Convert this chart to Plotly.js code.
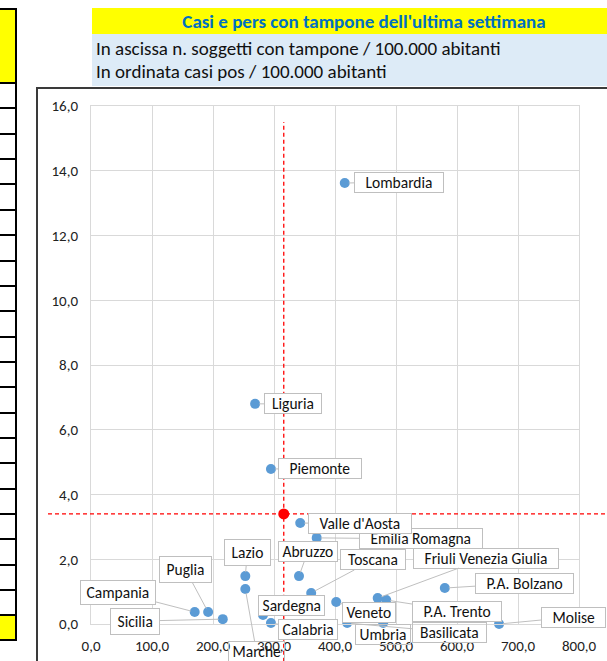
<!DOCTYPE html>
<html>
<head>
<meta charset="utf-8">
<script src="https://cdn.plot.ly/plotly-3.0.1.min.js"></script>
<style>
  html, body { margin: 0; padding: 0; background: #fff; }
  #wrap { position: relative; width: 607px; height: 661px; overflow: hidden; }
  .deco { position: absolute; box-sizing: border-box; }
  #chart { position: absolute; left: 0; top: 0; width: 607px; height: 661px; }
</style>
</head>
<body>
<div id="wrap">
  <div id="cells"></div>
  <div class="deco" style="left:92px;top:8px;width:515px;height:26px;background:#FFFF00;"></div>
  <div class="deco" style="left:92px;top:34px;width:515px;height:52px;background:#DDEBF7;"></div>
  <div class="deco" style="left:36px;top:87px;width:600px;height:600px;background:#fff;border-left:2px solid #3a3a3a;border-top:2px solid #3a3a3a;"></div>
  <div id="chart"></div>
</div>
<script>
// ---- data ----
const regions = ["Lombardia", "Liguria", "Piemonte", "Valle d'Aosta", "Emilia Romagna",
  "Abruzzo", "Lazio", "Marche", "Toscana", "Puglia", "Campania", "Sicilia",
  "Sardegna", "Calabria", "Veneto", "Friuli Venezia Giulia", "P.A. Trento",
  "P.A. Bolzano", "Molise", "Umbria", "Basilicata"];
const tamponi = [416, 269, 295, 343, 370, 341, 253, 253, 361, 192, 170, 216,
  282, 295, 402, 470, 484, 580, 669, 479, 420];
const casi = [13.62, 6.80, 4.79, 3.12, 2.66, 1.48, 1.48, 1.08, 0.96, 0.37, 0.37, 0.15,
  0.28, 0.03, 0.68, 0.80, 0.74, 1.11, 0.0, 0.03, 0.03];
const mediaTamponi = [316];
const mediaCasi = [3.40];
const xTicks = [0, 100, 200, 300, 400, 500, 600, 700, 800];
const yTicks = [0, 2, 4, 6, 8, 10, 12, 14, 16];
const titolo = "Casi e pers con tampone dell'ultima settimana";
const sottotitolo1 = "In ascissa n. soggetti con tampone / 100.000 abitanti";
const sottotitolo2 = "In ordinata casi pos / 100.000 abitanti";

// ---- label placement: [dx px, dy px, padding, side spaces, transparent box] ----
const labelPos = {
  "Lombardia": [54, -1, 0, 3, 0], "Liguria": [38, 0, 0, 2, 0], "Piemonte": [49, 0, 0, 3, 0],
  "Valle d'Aosta": [60, 1, 0, 3, 0], "Emilia Romagna": [104, 1, 0, 3, 0], "Abruzzo": [9, -25, 0, 1, 0],
  "Lazio": [2, -24, 3, 1, 0], "Marche": [11, 62, 0, 1, 1], "Toscana": [62, -33, 0, 2, 0],
  "Puglia": [-23, -43, 3, 1, 0], "Campania": [-77, -20, 2, 1, 0], "Sicilia": [-88, 2, 3, 1, 0],
  "Sardegna": [28, -9, 0, 1, 0], "Calabria": [37, 6, 0, 1, 0], "Veneto": [33, 11, 0, 1, 0],
  "Friuli Venezia Giulia": [108, -40, 0, 3, 0], "P.A. Trento": [71, 11, 0, 3, 0],
  "P.A. Bolzano": [80, -5, 0, 3, 0], "Molise": [74, -7, 0, 3, 0], "Umbria": [0, 11, 0, 1, 1],
  "Basilicata": [102, 9, 0, 2, 1]
};

// ---- spreadsheet cells at left ----
(function () {
  const c = document.getElementById('cells');
  let html = '<div class="deco" style="left:0;top:8px;width:17px;height:76px;background:#FFFF00;border:2px solid #000;border-left:none;"></div>';
  for (let k = 1; k <= 21; k++) {
    const y = 83 + 25.35 * k;
    html += '<div class="deco" style="left:0;top:' + (y - 1).toFixed(1) + 'px;width:17px;height:2px;background:#000;"></div>';
  }
  html += '<div class="deco" style="left:0;top:614px;width:17px;height:27px;background:#FFFF00;border:2px solid #000;border-left:none;"></div>';
  html += '<div class="deco" style="left:15px;top:8px;width:2px;height:633px;background:#000;"></div>';
  c.innerHTML = html;
})();

const W = 607, H = 661;
const M = {l: 91, r: 28, t: 106, b: 37};
const pw = W - M.l - M.r, ph = H - M.t - M.b;
const pxX = px => (px - M.l) / pw;
const pxY = py => (H - M.b - py) / ph;

const FONT = "Carlito, Calibri, Lato, sans-serif";
const nb = n => '\u00a0'.repeat(n);

let annotations = regions.map((r, i) => {
  const p = labelPos[r];
  return {
    x: tamponi[i], y: casi[i], xref: 'x', yref: 'y',
    text: nb(p[3]) + r + nb(p[3]), showarrow: true, arrowhead: 0, arrowwidth: 1,
    arrowcolor: '#bfbfbf', ax: p[0], ay: p[1], standoff: 4,
    bgcolor: p[4] ? 'rgba(255,255,255,0)' : '#ffffff',
    bordercolor: '#bfbfbf', borderwidth: 1, borderpad: p[2],
    font: {family: FONT, size: 15.5, color: '#111'}
  };
});
annotations.reverse();
annotations.push({
  xref: 'paper', yref: 'paper', x: pxX(94), y: pxY(48), xanchor: 'left', yanchor: 'middle',
  text: sottotitolo1, showarrow: false, font: {family: FONT, size: 19, color: '#111'}
});
annotations.push({
  xref: 'paper', yref: 'paper', x: pxX(94), y: pxY(72), xanchor: 'left', yanchor: 'middle',
  text: sottotitolo2, showarrow: false, font: {family: FONT, size: 19, color: '#111'}
});

const traces = [
  {
    x: tamponi, y: casi, text: regions, type: 'scatter', mode: 'markers',
    marker: {color: '#5B9BD5', size: 10}, cliponaxis: false, hoverinfo: 'text'
  },
  {
    x: mediaTamponi, y: mediaCasi, type: 'scatter', mode: 'markers',
    marker: {color: '#FF0000', size: 11}, cliponaxis: false
  }
];

const axisCommon = {
  showgrid: true, gridcolor: '#d9d9d9', gridwidth: 1, zeroline: false,
  showline: true, linecolor: '#d9d9d9', linewidth: 1, mirror: true,
  ticks: 'outside', tickcolor: 'rgba(0,0,0,0)', tickformat: '.1f',
  tickfont: {family: FONT, size: 15, color: '#222'}, fixedrange: true
};

const layout = {
  width: W, height: H, margin: M, showlegend: false,
  paper_bgcolor: 'rgba(0,0,0,0)', plot_bgcolor: 'rgba(0,0,0,0)',
  separators: ',.',
  title: {
    text: '<b>' + titolo + '</b>', x: 364 / W, xanchor: 'center', xref: 'container',
    y: 1 - 21 / H, yanchor: 'middle', yref: 'container',
    font: {family: FONT, size: 19, color: '#0070C0'}
  },
  xaxis: Object.assign({}, axisCommon, {range: [0, 800], tickvals: xTicks, ticklen: 8}),
  yaxis: Object.assign({}, axisCommon, {range: [0, 16], tickvals: yTicks, ticklen: 9}),
  shapes: [
    {type: 'line', xref: 'x', yref: 'paper', x0: mediaTamponi[0], x1: mediaTamponi[0],
     y0: -0.1, y1: pxY(122), line: {color: '#FF0000', width: 1.3, dash: '4px,3px'}, layer: 'above'},
    {type: 'line', xref: 'paper', yref: 'y', x0: pxX(48), x1: 1.2,
     y0: mediaCasi[0], y1: mediaCasi[0], line: {color: '#FF0000', width: 1.3, dash: '4px,3px'}, layer: 'above'}
  ],
  annotations: annotations
};

Plotly.newPlot('chart', traces, layout, {staticPlot: true, displayModeBar: false});
</script>
</body>
</html>
